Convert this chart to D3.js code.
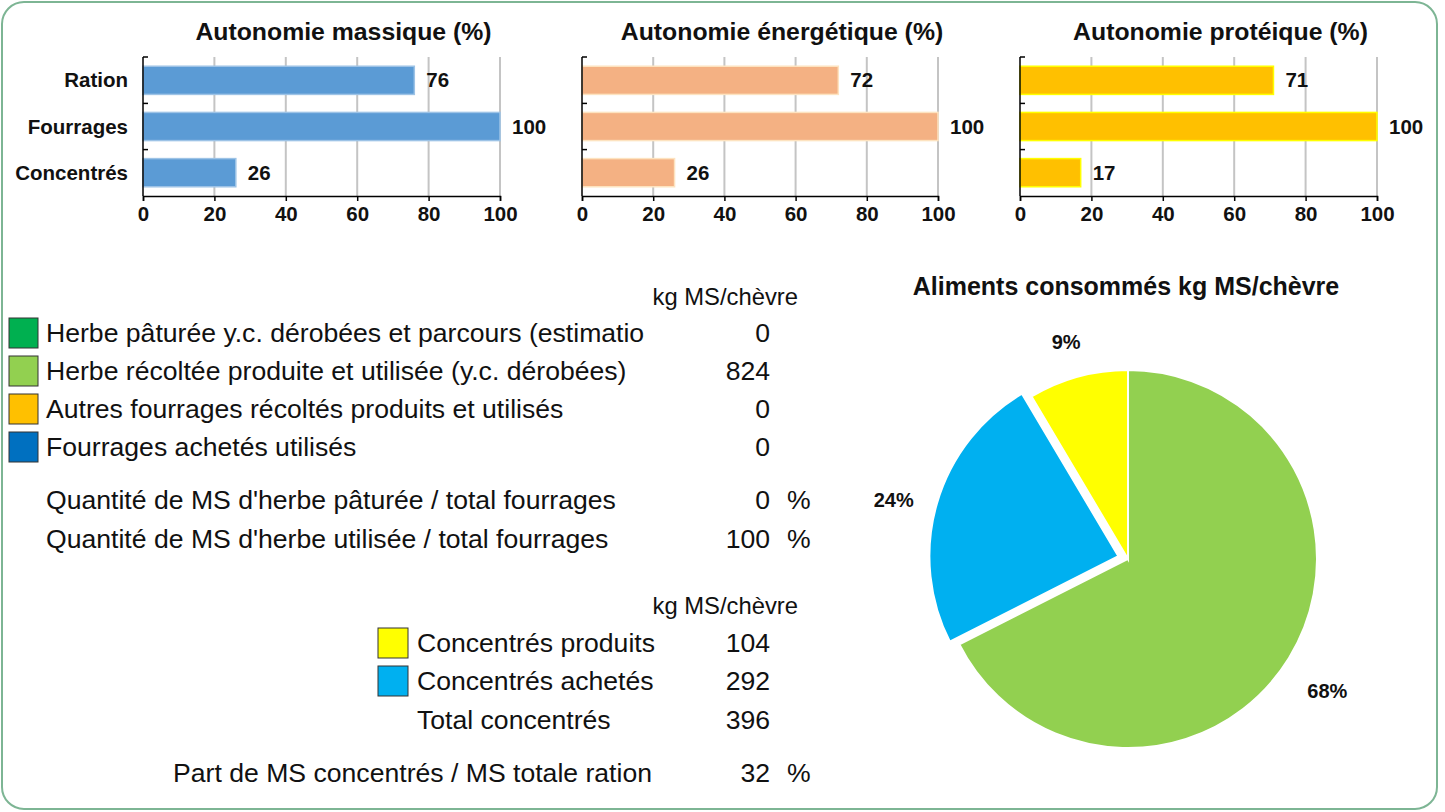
<!DOCTYPE html>
<html><head><meta charset="utf-8">
<script src="https://cdn.jsdelivr.net/npm/d3@7"></script>
<style>
html,body{margin:0;padding:0;background:#fff;}
svg{display:block;font-family:"Liberation Sans",Arial,sans-serif;}
</style></head><body>
<svg id="chart" width="1445" height="812"></svg>
<script>
// ---- data ----
const barCategories = ["Ration", "Fourrages", "Concentrés"];
const barTitles = ["Autonomie massique (%)", "Autonomie énergétique (%)", "Autonomie protéique (%)"];
const massique = [76, 100, 26];
const energetique = [72, 100, 26];
const proteique = [71, 100, 17];
const xTicks = [0, 20, 40, 60, 80, 100];

const unitLabel = "kg MS/chèvre";
const fourrageLabels = ["Herbe pâturée y.c. dérobées et parcours (estimatio", "Herbe récoltée produite et utilisée (y.c. dérobées)", "Autres fourrages récoltés produits et utilisés", "Fourrages achetés utilisés"];
const fourrageValues = [0, 824, 0, 0];
const fourrageColors = ["#00B050", "#92D050", "#FFC000", "#0070C0"];
const ratioLabels = ["Quantité de MS d'herbe pâturée / total fourrages", "Quantité de MS d'herbe utilisée / total fourrages"];
const ratioValues = [0, 100];
const concLabels = ["Concentrés produits", "Concentrés achetés", "Total concentrés"];
const concValues = [104, 292, 396];
const concColors = ["#FFFF00", "#00B0F0", null];
const partLabel = "Part de MS concentrés / MS totale ration";
const partValue = 32;

const pieTitle = "Aliments consommés kg MS/chèvre";
const pieNames = ["Herbe récoltée", "Concentrés achetés", "Concentrés produits"];
const pieValues = [824, 292, 104];
const pieColors = ["#92D050", "#00B0F0", "#FFFF00"];
const pieExploded = [false, true, false];

// ---- drawing ----
const svg = d3.select("#chart");
svg.append("rect").attr("x", 2).attr("y", 2).attr("width", 1435).attr("height", 807)
  .attr("rx", 22).attr("fill", "#fff").attr("stroke", "#7DB594").attr("stroke-width", 2);

const panels = [
  {title: barTitles[0], values: massique, x0: 143, x1: 500, fill: "#5B9BD5", stroke: "#9DC3E6", showCats: true},
  {title: barTitles[1], values: energetique, x0: 582, x1: 938, fill: "#F4B183", stroke: "#FDE3C0", showCats: false},
  {title: barTitles[2], values: proteique, x0: 1020, x1: 1377, fill: "#FFC000", stroke: "#FFFF00", showCats: false}
];
const yTop = 57, yBot = 196;
const boldSize = 20.5;

panels.forEach(p => {
  const g = svg.append("g");
  const x = d3.scaleLinear().domain([0, 100]).range([p.x0, p.x1]);
  const y = d3.scaleBand().domain(barCategories).range([yTop, yBot]).paddingInner(0.39).paddingOuter(0.2);

  // gridlines
  g.selectAll("line.grid").data(xTicks.filter(t => t > 0)).join("line")
    .attr("x1", d => x(d)).attr("x2", d => x(d)).attr("y1", yTop).attr("y2", yBot)
    .attr("stroke", "#C4C4C4").attr("stroke-width", 2);

  // bars
  g.selectAll("rect.bar").data(p.values).join("rect")
    .attr("x", x(0)).attr("y", (d, i) => y(barCategories[i]))
    .attr("width", d => x(d) - x(0)).attr("height", y.bandwidth())
    .attr("fill", p.fill).attr("stroke", p.stroke).attr("stroke-width", 1.5);

  // value labels
  g.selectAll("text.val").data(p.values).join("text")
    .attr("x", d => x(d) + 12).attr("y", (d, i) => y(barCategories[i]) + y.bandwidth() / 2)
    .attr("dy", "0.35em").attr("font-weight", "bold").attr("font-size", boldSize).attr("fill", "#111")
    .text(d => d);

  // bottom axis
  const xa = g.append("g").attr("transform", `translate(0,${yBot})`)
    .call(d3.axisBottom(x).tickValues(xTicks).tickSize(5).tickFormat(d3.format("d")));
  xa.select(".domain").attr("stroke", "#000").attr("stroke-width", 1.5);
  xa.selectAll(".tick line").attr("stroke", "#000").attr("stroke-width", 1.5);
  xa.selectAll(".tick text").attr("font-size", boldSize).attr("font-weight", "bold").attr("fill", "#111")
    .attr("font-family", "Liberation Sans, Arial, sans-serif").attr("dy", "0.85em");

  // left axis (ticks between categories)
  const boundaries = [yTop, y(barCategories[1]) - y.step() * y.paddingInner() / 2, y(barCategories[2]) - y.step() * y.paddingInner() / 2];
  g.append("line").attr("x1", x(0)).attr("x2", x(0)).attr("y1", yTop).attr("y2", yBot)
    .attr("stroke", "#000").attr("stroke-width", 1.5);
  g.selectAll("line.lt").data(boundaries).join("line")
    .attr("x1", x(0)).attr("x2", x(0) + 5).attr("y1", d => d).attr("y2", d => d)
    .attr("stroke", "#000").attr("stroke-width", 1.5);

  if (p.showCats) {
    g.selectAll("text.cat").data(barCategories).join("text")
      .attr("x", x(0) - 15).attr("y", d => y(d) + y.bandwidth() / 2).attr("dy", "0.35em")
      .attr("text-anchor", "end").attr("font-weight", "bold").attr("font-size", boldSize).attr("fill", "#111")
      .text(d => d);
  }

  g.append("text").attr("x", (p.x0 + p.x1) / 2 + 22).attr("y", 40)
    .attr("text-anchor", "middle").attr("font-weight", "bold").attr("font-size", 24.8).attr("fill", "#111")
    .text(p.title);
});

// ---- tables ----
const T = svg.append("g").attr("font-size", 26.6).attr("fill", "#111");
const valX = 770, pctX = 787;

T.append("text").attr("x", 798).attr("y", 305).attr("text-anchor", "end").attr("font-size", 23.8).text(unitLabel);
const rowY = d3.scalePoint().domain(d3.range(fourrageLabels.length)).range([333, 447]);
fourrageLabels.forEach((lab, i) => {
  const cy = rowY(i);
  T.append("rect").attr("x", 9).attr("y", cy - 15).attr("width", 29).attr("height", 30)
    .attr("fill", fourrageColors[i]).attr("stroke", "#333").attr("stroke-width", 1);
  T.append("text").attr("x", 46).attr("y", cy + 9).text(lab);
  T.append("text").attr("x", valX).attr("y", cy + 9).attr("text-anchor", "end").text(fourrageValues[i]);
});
const ratioY = [500, 539];
ratioLabels.forEach((lab, i) => {
  T.append("text").attr("x", 46).attr("y", ratioY[i] + 9).text(lab);
  T.append("text").attr("x", valX).attr("y", ratioY[i] + 9).attr("text-anchor", "end").text(ratioValues[i]);
  T.append("text").attr("x", pctX).attr("y", ratioY[i] + 9).text("%");
});

T.append("text").attr("x", 798).attr("y", 614).attr("text-anchor", "end").attr("font-size", 23.8).text(unitLabel);
const concY = [643, 681, 720];
concLabels.forEach((lab, i) => {
  if (concColors[i]) {
    T.append("rect").attr("x", 378).attr("y", concY[i] - 15).attr("width", 30).attr("height", 30)
      .attr("fill", concColors[i]).attr("stroke", "#333").attr("stroke-width", 1);
  }
  T.append("text").attr("x", 417).attr("y", concY[i] + 9).text(lab);
  T.append("text").attr("x", valX).attr("y", concY[i] + 9).attr("text-anchor", "end").text(concValues[i]);
});
T.append("text").attr("x", 652).attr("y", 773 + 9).attr("text-anchor", "end").text(partLabel);
T.append("text").attr("x", valX).attr("y", 773 + 9).attr("text-anchor", "end").text(partValue);
T.append("text").attr("x", pctX).attr("y", 773 + 9).text("%");

// ---- pie ----
const cx = 1128, cy = 559, R = 189;
svg.append("text").attr("x", 1126).attr("y", 295).attr("text-anchor", "middle")
  .attr("font-weight", "bold").attr("font-size", 25).attr("fill", "#111").text(pieTitle);
const pie = d3.pie().sort(null).value(d => d);
const arcs = pie(pieValues);
const arc = d3.arc().innerRadius(0).outerRadius(R);
const total = d3.sum(pieValues);
const pg = svg.append("g").attr("transform", `translate(${cx},${cy})`);
arcs.forEach((a, i) => {
  const mid = (a.startAngle + a.endAngle) / 2;
  const off = pieExploded[i] ? 10 : 0;
  const dx = off * Math.sin(mid), dy = -off * Math.cos(mid);
  pg.append("path").attr("d", arc(a)).attr("transform", `translate(${dx},${dy})`)
    .attr("fill", pieColors[i]).attr("stroke", "#fff").attr("stroke-width", 2);
  const lr = R + 45;
  pg.append("text").attr("x", dx + lr * Math.sin(mid)).attr("y", dy - lr * Math.cos(mid) + 9)
    .attr("dy", "0.35em").attr("text-anchor", "middle")
    .attr("font-weight", "bold").attr("font-size", 20).attr("fill", "#111")
    .text(Math.round(a.value / total * 100) + "%");
});
</script>
</body></html>
